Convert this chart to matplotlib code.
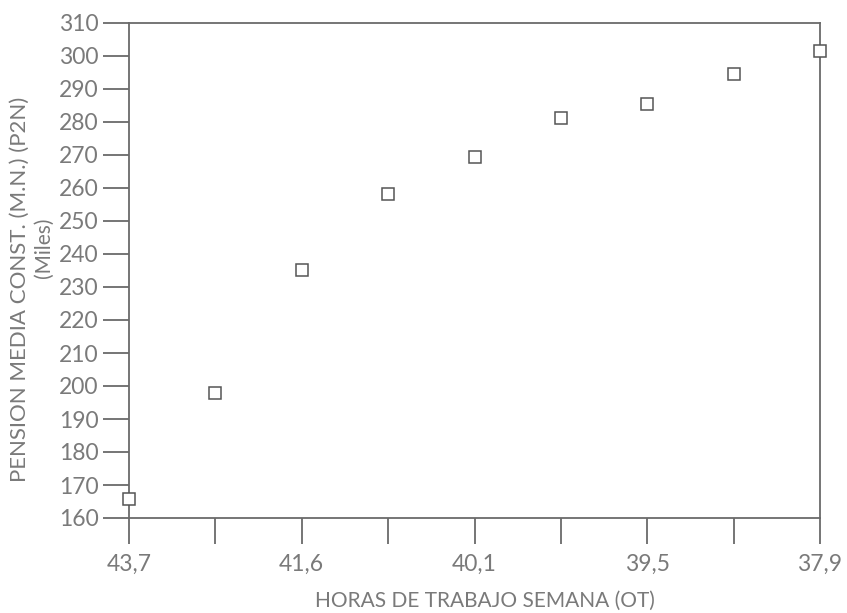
import matplotlib
matplotlib.use("Agg")
import matplotlib.pyplot as plt

plt.rcParams['font.family'] = ['Lato', 'DejaVu Sans']

hours_labels = ["43,7", "", "41,6", "", "40,1", "", "39,5", "", "37,9"]
pension = [165.8, 198.0, 235.2, 258.2, 269.4, 281.2, 285.5, 294.5, 301.5]
y_ticks = list(range(160, 311, 10))

gray = "#6a6a6a"
text_gray = "#7a7a7a"

W, H = 847, 613
fig = plt.figure(figsize=(W / 100, H / 100), dpi=100)
ax = fig.add_axes([129 / W, 1 - 518 / H, (820 - 129) / W, (518 - 23) / H])

x = list(range(len(pension)))
ax.plot(x, pension, linestyle="none", marker="s", markersize=8.5,
        markerfacecolor="white", markeredgecolor="#555555", markeredgewidth=1.1,
        clip_on=False, zorder=3)

ax.set_xlim(0, len(pension) - 1)
ax.set_ylim(160, 310)
ax.set_xticks(x)
ax.set_xticklabels(hours_labels)
ax.set_yticks(y_ticks)
ax.set_yticklabels([str(v) for v in y_ticks])

for s in ax.spines.values():
    s.set_color(gray)
    s.set_linewidth(1.3)

ax.tick_params(axis="both", direction="out", length=19, width=1.3, color=gray,
               labelcolor=text_gray, labelsize=16.5)
ax.tick_params(axis="x", pad=7)
ax.tick_params(axis="y", pad=3)

fig.text(485 / W, 1 - 601 / H, "HORAS DE TRABAJO SEMANA (OT)", color=text_gray,
         fontsize=15, ha="center", va="center")
fig.text(20 / W, 1 - 289 / H, "PENSION MEDIA CONST. (M.N.) (P2N)", color=text_gray,
         fontsize=16, rotation=90, ha="center", va="center")
fig.text(44 / W, 1 - 248 / H, "(Miles)", color=text_gray,
         fontsize=15, rotation=90, ha="center", va="center")

fig.savefig("out.png", dpi=100, facecolor="white")
